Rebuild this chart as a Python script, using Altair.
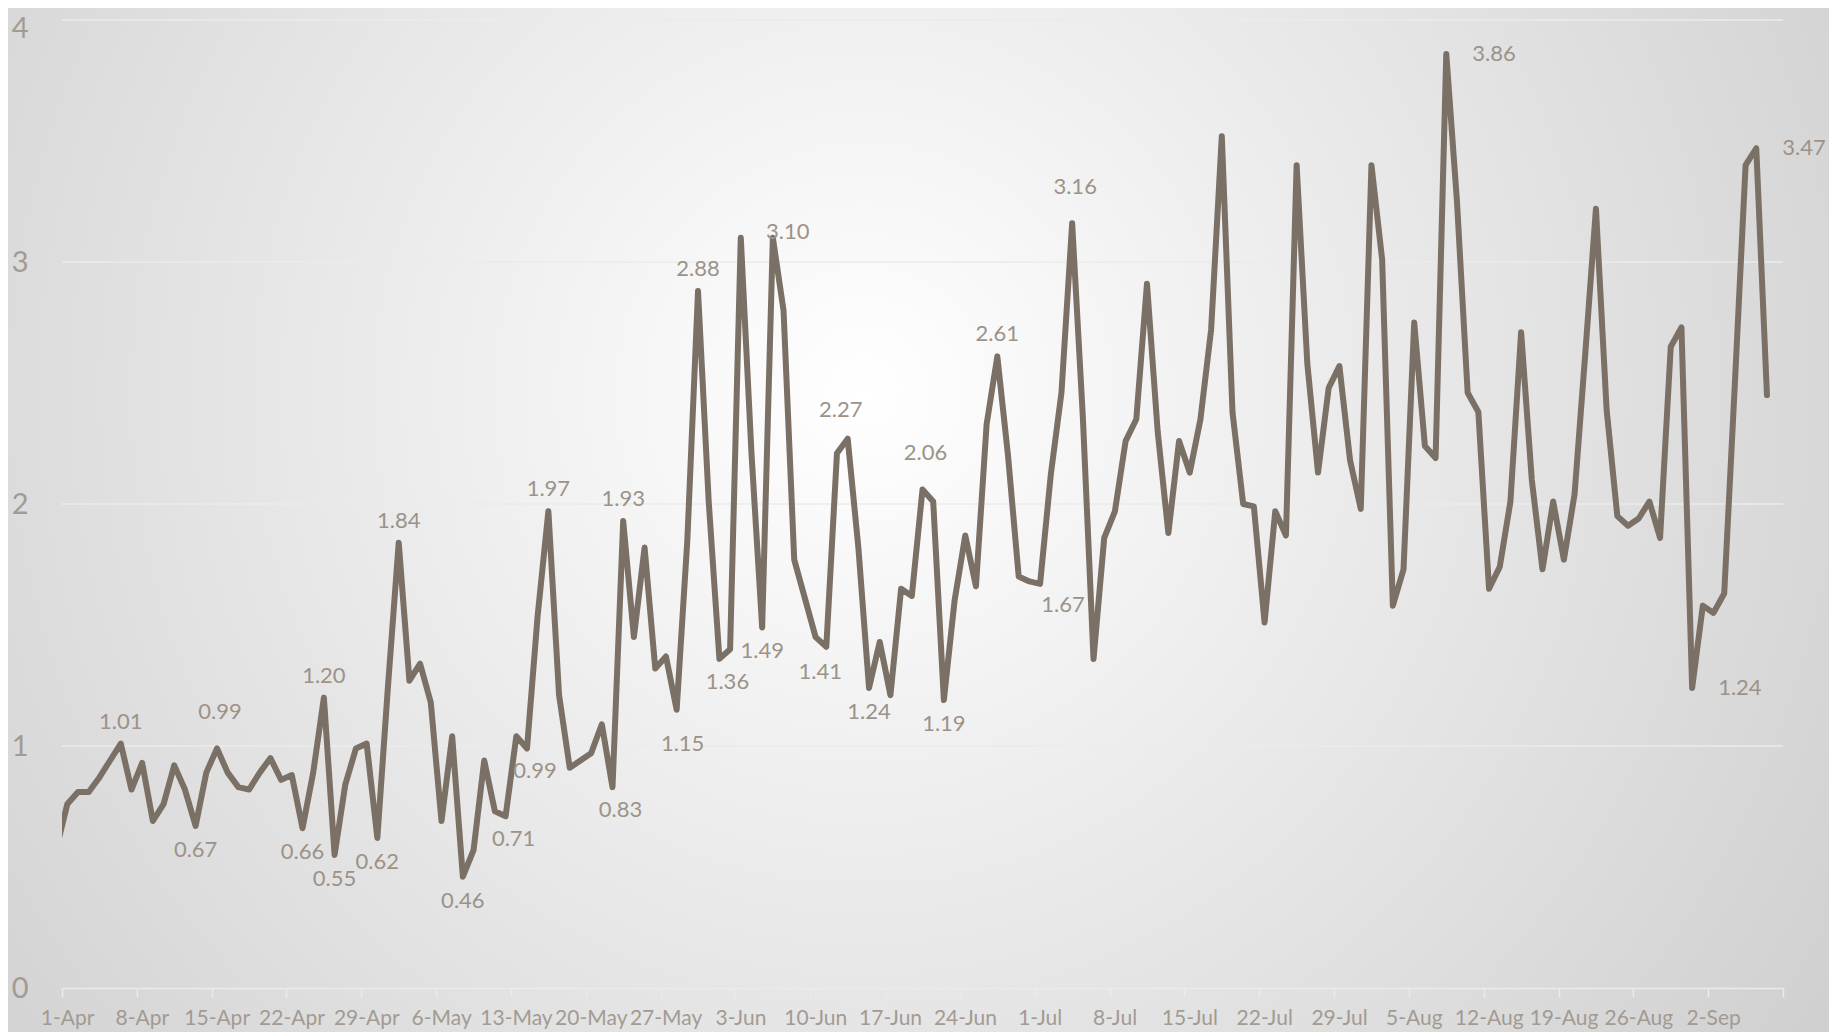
import altair as alt
import pandas as pd

# ---- data (daily values, 1-Apr .. 7-Sep) ----
values = [
    0.76, 0.81, 0.81, 0.87, 0.94, 1.01, 0.82, 0.93, 0.69, 0.76,
    0.92, 0.82, 0.67, 0.89, 0.99, 0.89, 0.83, 0.82, 0.89, 0.95,
    0.86, 0.88, 0.66, 0.89, 1.20, 0.55, 0.84, 0.99, 1.01, 0.62,
    1.25, 1.84, 1.27, 1.34, 1.18, 0.69, 1.04, 0.46, 0.57, 0.94,
    0.73, 0.71, 1.04, 0.99, 1.54, 1.97, 1.21, 0.91, 0.94, 0.97,
    1.09, 0.83, 1.93, 1.45, 1.82, 1.32, 1.37, 1.15, 1.85, 2.88,
    2.01, 1.36, 1.40, 3.10, 2.21, 1.49, 3.10, 2.80, 1.77, 1.61,
    1.45, 1.41, 2.21, 2.27, 1.82, 1.24, 1.43, 1.21, 1.65, 1.62,
    2.06, 2.01, 1.19, 1.60, 1.87, 1.66, 2.33, 2.61, 2.20, 1.70,
    1.68, 1.67, 2.12, 2.46, 3.16, 2.36, 1.36, 1.86, 1.97, 2.26,
    2.35, 2.91, 2.30, 1.88, 2.26, 2.13, 2.35, 2.72, 3.52, 2.38,
    2.00, 1.99, 1.51, 1.97, 1.87, 3.40, 2.58, 2.13, 2.48, 2.57,
    2.18, 1.98, 3.40, 3.01, 1.58, 1.73, 2.75, 2.24, 2.19, 3.86,
    3.25, 2.46, 2.38, 1.65, 1.74, 2.01, 2.71, 2.10, 1.73, 2.01,
    1.77, 2.04, 2.62, 3.22, 2.39, 1.95, 1.91, 1.94, 2.01, 1.86,
    2.65, 2.73, 1.24, 1.58, 1.55, 1.63, 2.50, 3.40, 3.47, 2.45,
]
prev_value = 0.58  # 31-Mar, only its segment into the plot edge is visible

tick_labels = ["1-Apr", "8-Apr", "15-Apr", "22-Apr", "29-Apr", "6-May", "13-May",
               "20-May", "27-May", "3-Jun", "10-Jun", "17-Jun", "24-Jun", "1-Jul",
               "8-Jul", "15-Jul", "22-Jul", "29-Jul", "5-Aug", "12-Aug", "19-Aug",
               "26-Aug", "2-Sep"]
y_ticks = [0, 1, 2, 3, 4]
grid_values = [1, 2, 3, 4]

# labelled points (day index) and where their label sits
label_idx = [5, 12, 14, 22, 24, 25, 29, 31, 37, 41, 43, 45, 51, 52, 57, 59, 61, 65,
             66, 71, 73, 75, 80, 82, 87, 91, 94, 129, 152, 158]
label_place = ["above", "below", "above_far", "below", "above", "below", "below",
               "above", "below", "below_r", "below_r", "above", "below_r", "above",
               "below_far", "above", "below_r", "below", "above_right", "below_l",
               "above_far_l", "below", "above_far", "below", "above", "below_rr",
               "above_far", "right", "right", "right"]

placements = {
    "above": dict(dx=0, dy=-22, align="center"),
    "above_far": dict(dx=3, dy=-36, align="center"),
    "above_far_l": dict(dx=-7, dy=-29, align="center"),
    "above_right": dict(dx=15, dy=-6, align="center"),
    "below": dict(dx=0, dy=24, align="center"),
    "below_r": dict(dx=8, dy=23, align="center"),
    "below_l": dict(dx=-6, dy=25, align="center"),
    "below_far": dict(dx=6, dy=34, align="center"),
    "below_rr": dict(dx=23, dy=21, align="center"),
    "right": dict(dx=26, dy=0, align="left"),
}

# ---- tables ----
all_dates = pd.date_range("2019-03-31", periods=len(values) + 1, freq="D")
first = pd.Timestamp("2019-04-01")
df = pd.DataFrame({
    "date": all_dates.strftime("%Y-%m-%d"),
    "day": [(d - first).days + 0.5 for d in all_dates],
    "value": [prev_value] + values,
})
lab = pd.DataFrame({
    "day": [i + 0.5 for i in label_idx],
    "value": [values[i] for i in label_idx],
    "place": label_place,
})

# ---- styling ----
W, H = 1721, 968
PAD = {"left": 54, "top": 12, "right": 46, "bottom": 44}
LINE = "#7a7066"
LAB = "#9c9289"
AXL = "#a39a92"
GRID = "#ebebeb"
FONT = "Lato"

xscale = alt.Scale(domain=[0, 161], nice=False, zero=False)
yscale = alt.Scale(domain=[0, 4], nice=False)

label_js = "[" + ",".join("'%s'" % t for t in tick_labels) + "]"
xaxis = alt.Axis(
    values=list(range(0, 162, 7)),
    labelExpr=label_js + "[round(datum.value/7)] || ''",
    labelOffset=5, labelFlush=False, labelOverlap=False, labelBound=False,
    labelFont=FONT, labelFontSize=21, labelColor=AXL,
    domainColor=GRID, domainWidth=1.5, tickColor=GRID, tickWidth=1.5,
    tickSize=9, labelPadding=10, grid=False, title=None, zindex=1,
)
yaxis = alt.Axis(
    values=y_ticks, grid=False, domain=False, ticks=False,
    labelFont=FONT, labelFontSize=29, labelColor=AXL, labelPadding=34,
    labelOffset={"condition": {"test": "datum.value >= 4", "value": 8}, "value": 0},
    labelFlush=False, title=None, zindex=1,
)

gradient = {
    "gradient": "radial",
    "x1": 0.47, "y1": 0.43, "r1": 0,
    "x2": 0.47, "y2": 0.43, "r2": 0.64,
    "stops": [{"offset": 0, "color": "#ffffff"},
              {"offset": 1, "color": "#cfcfcf"}],
}

bg = alt.Chart(alt.Data(values=[{}])).mark_rect(fill=gradient, clip=False).encode(
    x=alt.value(-PAD["left"]), x2=alt.value(W + PAD["right"]),
    y=alt.value(-PAD["top"]), y2=alt.value(H + PAD["bottom"]),
)

grid = alt.Chart(pd.DataFrame({"g": grid_values})).mark_rule(
    color=GRID, strokeWidth=1.5
).encode(y=alt.Y("g:Q", scale=yscale, axis=yaxis))

line = alt.Chart(df).mark_line(
    color=LINE, strokeWidth=6, strokeJoin="round", strokeCap="round", clip=True
).encode(
    x=alt.X("day:Q", scale=xscale, axis=xaxis),
    y=alt.Y("value:Q", scale=yscale, axis=yaxis),
)

texts = []
for name, p in placements.items():
    texts.append(
        alt.Chart(lab).transform_filter(alt.datum.place == name).mark_text(
            font=FONT, fontSize=22, color=LAB, baseline="middle",
            align=p["align"], dx=p["dx"], dy=p["dy"],
        ).encode(
            x=alt.X("day:Q", scale=xscale, axis=xaxis),
            y=alt.Y("value:Q", scale=yscale, axis=yaxis),
            text=alt.Text("value:Q", format=".2f"),
        )
    )

chart = alt.layer(bg, grid, line, *texts).properties(
    width=W, height=H, padding=PAD,
    autosize=alt.AutoSizeParams(type="none"),
    background="#d2d2d2",
).configure_view(stroke=None)

chart.save("out.html", embed_options={"renderer": "svg", "actions": False})
